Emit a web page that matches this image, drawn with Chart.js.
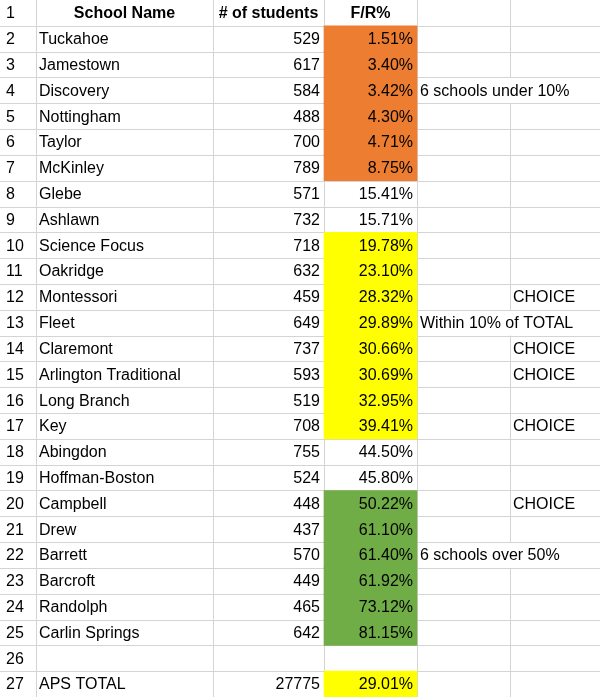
<!DOCTYPE html>
<html>
<head>
<meta charset="utf-8">
<script src="https://cdn.jsdelivr.net/npm/chart.js@4"></script>
<style>
  body { margin: 0; background: #fff; }
  #wrap { width: 600px; height: 697px; position: relative; }
</style>
</head>
<body>
<div id="wrap"><canvas id="sheet"></canvas></div>
<script>
const headers = ['School Name', '# of students', 'F/R%'];
const schools = ['Tuckahoe', 'Jamestown', 'Discovery', 'Nottingham', 'Taylor', 'McKinley', 'Glebe', 'Ashlawn',
  'Science Focus', 'Oakridge', 'Montessori', 'Fleet', 'Claremont', 'Arlington Traditional', 'Long Branch', 'Key',
  'Abingdon', 'Hoffman-Boston', 'Campbell', 'Drew', 'Barrett', 'Barcroft', 'Randolph', 'Carlin Springs', '', 'APS TOTAL'];
const students = [529, 617, 584, 488, 700, 789, 571, 732, 718, 632, 459, 649, 737, 593, 519, 708, 755, 524,
  448, 437, 570, 449, 465, 642, null, 27775];
const frPct = [1.51, 3.40, 3.42, 4.30, 4.71, 8.75, 15.41, 15.71, 19.78, 23.10, 28.32, 29.89, 30.66, 30.69, 32.95,
  39.41, 44.50, 45.80, 50.22, 61.10, 61.40, 61.92, 73.12, 81.15, null, 29.01];
const groups = ['low', 'low', 'low', 'low', 'low', 'low', '', '', 'mid', 'mid', 'mid', 'mid', 'mid', 'mid', 'mid', 'mid',
  '', '', 'high', 'high', 'high', 'high', 'high', 'high', '', 'mid'];
const notes = ['', '', '6 schools under 10%', '', '', '', '', '', '', '', '', 'Within 10% of TOTAL', '', '', '', '',
  '', '', '', '', '6 schools over 50%', '', '', '', '', ''];
const choice = ['', '', '', '', '', '', '', '', '', '', 'CHOICE', '', 'CHOICE', 'CHOICE', '', 'CHOICE', '', '',
  'CHOICE', '', '', '', '', '', '', ''];

const groupColors = { low: '#ED7D31', mid: '#FFFF00', high: '#70AD47' };
const colEdges = [0, 36, 213, 324, 417, 510, 600];
const rowLabels = ['1'].concat(schools.map((s, i) => String(i + 2)));
const FONT = "16px 'Liberation Sans', sans-serif";

// cell fills for the F/R% column (row 1 is the header, no fill)
const fillData = [null].concat(frPct.map((v, i) => (groups[i] ? [324, 417] : null)));
const fillColors = ['transparent'].concat(groups.map((g) => groupColors[g] || 'transparent'));

const gridPlugin = {
  id: 'grid',
  beforeDatasetsDraw(chart) {
    const { ctx, scales: { x, y } } = chart;
    const half = (y.getPixelForValue(1) - y.getPixelForValue(0)) / 2;
    ctx.save();
    ctx.strokeStyle = '#D4D4D4';
    ctx.lineWidth = 1;
    rowLabels.forEach((lab, i) => {
      const yc = y.getPixelForValue(i);
      ctx.beginPath();
      ctx.moveTo(0, Math.round(yc + half) + 0.5);
      ctx.lineTo(600, Math.round(yc + half) + 0.5);
      ctx.stroke();
      colEdges.slice(1, -1).forEach((cx) => {
        if (cx === 510 && i > 0 && notes[i - 1]) return;
        const px = Math.round(x.getPixelForValue(cx)) + 0.5;
        ctx.beginPath();
        ctx.moveTo(px, yc - half);
        ctx.lineTo(px, yc + half);
        ctx.stroke();
      });
    });
    ctx.restore();
  },
  afterDatasetsDraw(chart) {
    const { ctx, scales: { x, y } } = chart;
    ctx.save();
    ctx.fillStyle = '#000';
    ctx.textBaseline = 'middle';
    rowLabels.forEach((lab, i) => {
      const yc = y.getPixelForValue(i) + 1;
      ctx.font = FONT;
      ctx.textAlign = 'left';
      ctx.fillText(lab, x.getPixelForValue(6), yc);
      if (i === 0) {
        ctx.font = "bold " + FONT;
        ctx.textAlign = 'center';
        headers.forEach((h, c) => {
          ctx.fillText(h, x.getPixelForValue((colEdges[c + 1] + colEdges[c + 2]) / 2), yc);
        });
        return;
      }
      const r = i - 1;
      ctx.fillText(schools[r], x.getPixelForValue(39), yc);
      ctx.textAlign = 'right';
      if (students[r] != null) ctx.fillText(String(students[r]), x.getPixelForValue(320), yc);
      if (frPct[r] != null) ctx.fillText(frPct[r].toFixed(2) + '%', x.getPixelForValue(413), yc);
      ctx.textAlign = 'left';
      if (notes[r]) ctx.fillText(notes[r], x.getPixelForValue(420), yc);
      if (choice[r]) ctx.fillText(choice[r], x.getPixelForValue(513), yc);
    });
    ctx.restore();
  },
};

new Chart(document.getElementById('sheet'), {
  type: 'bar',
  data: {
    labels: rowLabels,
    datasets: [{
      data: fillData,
      backgroundColor: fillColors,
      barPercentage: 1,
      categoryPercentage: 1,
      borderWidth: 0,
    }],
  },
  options: {
    indexAxis: 'y',
    responsive: true,
    maintainAspectRatio: false,
    animation: false,
    layout: { padding: 0 },
    scales: {
      x: { type: 'linear', min: 0, max: 600, display: false },
      y: { display: false },
    },
    plugins: { legend: { display: false }, tooltip: { enabled: false } },
  },
  plugins: [gridPlugin],
});
</script>
</body>
</html>
